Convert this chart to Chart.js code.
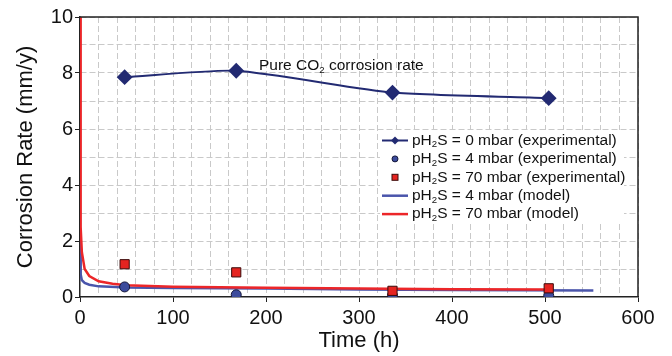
<!DOCTYPE html>
<html>
<head>
<meta charset="utf-8">
<script src="https://cdn.jsdelivr.net/npm/chart.js@4"></script>
<style>
  html, body { margin: 0; padding: 0; background: #fff; }
  #wrap { width: 672px; height: 356px; }
</style>
</head>
<body>
<div id="wrap"><canvas id="chart" width="672" height="356"></canvas></div>
<script>
// experimental times (h)
const expTimes = [48, 168, 336, 504];
const rate0mbar = [7.85, 8.08, 7.3, 7.1];
const rate4mbar = [0.36, 0.08, 0.05, 0.05];
const rate70mbar = [1.17, 0.88, 0.22, 0.31];

// model curves
const model4Time = [0, 0.5, 1, 2, 5, 10, 20, 50, 100, 200, 300, 400, 552];
const model4Rate = [2.2, 1.2, 0.8, 0.6, 0.5, 0.44, 0.38, 0.34, 0.32, 0.3, 0.27, 0.25, 0.23];
const model70Time = [0, 0.4, 1, 2, 5, 10, 20, 35, 50, 100, 200, 300, 400, 504];
const model70Rate = [10, 4, 2.5, 1.6, 1.0, 0.75, 0.56, 0.47, 0.42, 0.37, 0.33, 0.3, 0.28, 0.27];

const xTicksMax = 600;
const yTicksMax = 10;

const FONT = '"Liberation Sans", Arial, Helvetica, sans-serif';
const NAVY = '#222a72';
const BLUE = '#4a55ab';
const RED = '#ec2629';
const GRID = '#c9c9c9';

const pts = (xs, ys) => xs.map((x, i) => ({ x: x, y: ys[i] }));

// text with subscripts: parts = [[text, isSub], ...]
function drawParts(ctx, parts, x, y, size) {
    let cx = x;
    parts.forEach(([t, sub]) => {
        ctx.font = (sub ? size * 0.62 : size) + 'px ' + FONT;
        ctx.fillText(t, cx, sub ? y + size * 0.28 : y);
        cx += ctx.measureText(t).width;
    });
    return cx - x;
}

const extras = {
    id: 'extras',
    afterDraw(chart) {
        const ctx = chart.ctx;
        const a = chart.chartArea;
        ctx.save();
        // frame top / right
        ctx.strokeStyle = '#222';
        ctx.lineWidth = 1.5;
        ctx.beginPath();
        ctx.moveTo(a.left, a.top);
        ctx.lineTo(a.right, a.top);
        ctx.lineTo(a.right, a.bottom);
        ctx.stroke();

        ctx.textBaseline = 'middle';
        ctx.fillStyle = '#111';

        // annotation
        drawParts(ctx, [['Pure CO', 0], ['2', 1], [' corrosion rate', 0]], 259, 66, 15.5);

        // legend
        ctx.fillStyle = '#fff';
        ctx.fillRect(380, 130, 244, 92);
        const rows = [
            { label: '0 mbar (experimental)', kind: 'diamond' },
            { label: '4 mbar (experimental)', kind: 'circle' },
            { label: '70 mbar (experimental)', kind: 'square' },
            { label: '4 mbar (model)', kind: 'blue' },
            { label: '70 mbar (model)', kind: 'red' }
        ];
        rows.forEach((r, i) => {
            const y = 140.5 + i * 18.4;
            const sx = 395;
            if (r.kind === 'diamond') {
                ctx.strokeStyle = NAVY; ctx.lineWidth = 2;
                ctx.beginPath(); ctx.moveTo(382, y); ctx.lineTo(408, y); ctx.stroke();
                ctx.fillStyle = NAVY;
                ctx.beginPath();
                ctx.moveTo(sx, y - 4); ctx.lineTo(sx + 4, y); ctx.lineTo(sx, y + 4); ctx.lineTo(sx - 4, y);
                ctx.closePath(); ctx.fill();
            } else if (r.kind === 'circle') {
                ctx.fillStyle = '#3c4b9c'; ctx.strokeStyle = '#15183a'; ctx.lineWidth = 1;
                ctx.beginPath(); ctx.arc(sx, y, 3, 0, Math.PI * 2); ctx.fill(); ctx.stroke();
            } else if (r.kind === 'square') {
                ctx.fillStyle = '#e52420'; ctx.strokeStyle = '#3a0a0a'; ctx.lineWidth = 1;
                ctx.fillRect(sx - 3, y - 3, 6, 6); ctx.strokeRect(sx - 3, y - 3, 6, 6);
            } else {
                ctx.strokeStyle = r.kind === 'blue' ? BLUE : RED; ctx.lineWidth = 2.5;
                ctx.beginPath(); ctx.moveTo(382, y); ctx.lineTo(408, y); ctx.stroke();
            }
            ctx.fillStyle = '#111';
            drawParts(ctx, [['pH', 0], ['2', 1], ['S = ' + r.label, 0]], 412, y, 15.5);
        });
        ctx.restore();
    }
};

const isMajorX = v => v % 100 === 0;
const isMajorY = v => v % 2 === 0;

new Chart(document.getElementById('chart'), {
    type: 'scatter',
    data: {
        datasets: [
            {
                label: 'pH2S = 0 mbar (experimental)',
                data: pts(expTimes, rate0mbar),
                showLine: true, tension: 0.2,
                borderColor: NAVY, backgroundColor: NAVY, borderWidth: 2,
                pointStyle: 'rectRot', pointRadius: 6.5, order: 0
            },
            {
                label: 'pH2S = 4 mbar (experimental)',
                data: pts(expTimes, rate4mbar),
                backgroundColor: '#3c4b9c', borderColor: '#15183a', borderWidth: 1,
                pointStyle: 'circle', pointRadius: 5, order: 2
            },
            {
                label: 'pH2S = 70 mbar (experimental)',
                data: pts(expTimes, rate70mbar),
                backgroundColor: '#e52420', borderColor: '#3a0a0a', borderWidth: 1,
                pointStyle: 'rect', pointRadius: 6.5, order: 1
            },
            {
                label: 'pH2S = 4 mbar (model)',
                data: pts(model4Time, model4Rate),
                showLine: true, borderColor: BLUE, borderWidth: 2.5,
                pointRadius: 0, tension: 0, order: 4
            },
            {
                label: 'pH2S = 70 mbar (model)',
                data: pts(model70Time, model70Rate),
                showLine: true, borderColor: RED, borderWidth: 2.5,
                pointRadius: 0, tension: 0, order: 3
            }
        ]
    },
    options: {
        responsive: false,
        animation: false,
        layout: { padding: { top: 17, right: 34, left: 0, bottom: 0 } },
        plugins: { legend: { display: false }, tooltip: { enabled: false } },
        scales: {
            x: {
                type: 'linear', min: 0, max: xTicksMax,
                afterFit: s => { s.height = 59; },
                grid: {
                    color: ctx => ctx.tick && ctx.tick.value === 0 ? 'rgba(0,0,0,0)' : GRID,
                    tickLength: 5,
                    tickColor: ctx => ctx.tick && isMajorX(ctx.tick.value) ? '#222' : 'rgba(0,0,0,0)'
                },
                border: { color: '#222', width: 1.5, dash: [6, 3] },
                ticks: {
                    stepSize: 20, autoSkip: false, maxRotation: 0, padding: 4,
                    color: '#111', font: { family: FONT, size: 20 },
                    callback: v => isMajorX(v) ? v : ''
                },
                title: {
                    display: true, text: 'Time (h)', color: '#111',
                    font: { family: FONT, size: 22 }, padding: { top: 0, bottom: 2 }
                }
            },
            y: {
                min: 0, max: yTicksMax,
                afterFit: s => { s.width = 80; },
                grid: {
                    color: ctx => ctx.tick && ctx.tick.value === 0 ? 'rgba(0,0,0,0)' : GRID,
                    tickLength: 5,
                    tickColor: ctx => ctx.tick && isMajorY(ctx.tick.value) ? '#222' : 'rgba(0,0,0,0)'
                },
                border: { color: '#222', width: 1.5, dash: [6, 3] },
                ticks: {
                    stepSize: 1, autoSkip: false, padding: 2,
                    color: '#111', font: { family: FONT, size: 20 },
                    callback: v => isMajorY(v) ? v : ''
                },
                title: {
                    display: true, text: 'Corrosion Rate (mm/y)', color: '#111',
                    font: { family: FONT, size: 22 }, padding: { top: 13, bottom: 0 }
                }
            }
        }
    },
    plugins: [extras]
});
</script>
</body>
</html>
